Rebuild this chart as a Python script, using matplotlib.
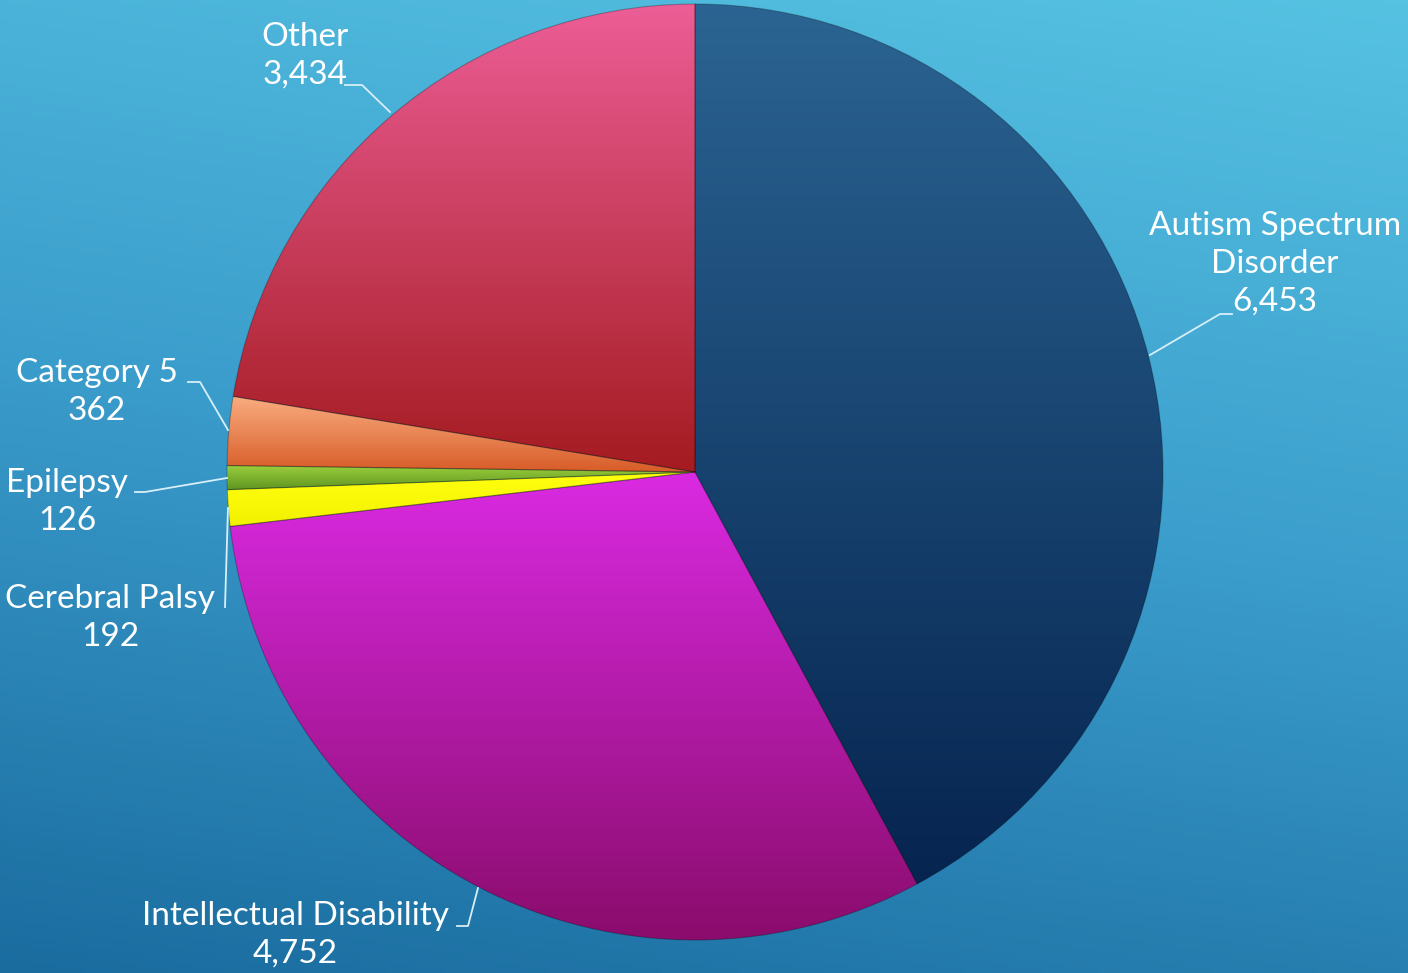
import numpy as np
import matplotlib.pyplot as plt
from matplotlib.colors import LinearSegmentedColormap

# データ
labels = ['Autism Spectrum\nDisorder', 'Intellectual Disability', 'Cerebral Palsy',
          'Epilepsy', 'Category 5', 'Other']
values = [6453, 4752, 192, 126, 362, 3434]
# 各セクターのグラデーション (上, 下)
top_colors = ['#2b6492', '#da2ae2', '#ffff10', '#9ccf3c', '#f9ad80', '#ec5e96']
bottom_colors = ['#06244f', '#8a0c6c', '#f2f200', '#5e9422', '#d85c28', '#a41b20']

W, H = 1408, 973
fig = plt.figure(figsize=(W / 100, H / 100), dpi=100)
ax = fig.add_axes([0, 0, 1, 1])

# 背景グラデーション
yy, xx = np.mgrid[0:1:200j, 0:1:200j]
t = 0.8 * yy + 0.2 * (1 - xx)
bg = LinearSegmentedColormap.from_list('bg', ['#56c2e2', '#3a9ccb', '#1a6c9f'])
ax.imshow(t, cmap=bg, extent=(0, W, 0, H), origin='upper', aspect='auto', zorder=0)

cx, cy, r = 695, H - 472, 468
wedges, _ = ax.pie(values, startangle=90, counterclock=False, center=(cx, cy),
                   radius=r, wedgeprops=dict(edgecolor='#00000040', linewidth=0.8))

for w, c1, c2 in zip(wedges, top_colors, bottom_colors):
    w.set_facecolor('none')
    w.set_zorder(3)
    ext = w.get_path().get_extents(w.get_patch_transform())
    cm = LinearSegmentedColormap.from_list('g', [c1, c2])
    grad = np.linspace(0, 1, 256).reshape(-1, 1)
    im = ax.imshow(grad, cmap=cm, extent=(ext.x0, ext.x1, ext.y0, ext.y1),
                   origin='upper', aspect='auto', zorder=2)
    im.set_clip_path(w)

ax.set_xlim(0, W)
ax.set_ylim(0, H)
ax.set_aspect('auto')
ax.axis('off')

# ラベルと引き出し線 (画面座標, y は上から)
label_pos = [(1275, 264), (295, 935), (110, 618), (67, 502), (97, 392), (305, 56)]
leaders = [
    [(1150, 355), (1220, 314), (1232, 314)],
    [(457, 926), (468, 926), (478, 888)],
    [(225, 607), (228, 508)],
    [(135, 492), (145, 492), (227, 478)],
    [(188, 382), (200, 382), (228, 430)],
    [(345, 85), (362, 85), (390, 112)],
]
for lab, v, (x, y), pts in zip(labels, values, label_pos, leaders):
    ax.text(x, H - y, f'{lab}\n{v:,}', ha='center', va='center', color='white',
            fontsize=24, family='Lato', linespacing=1.32, zorder=5)
    px = [p[0] for p in pts]
    py = [H - p[1] for p in pts]
    ax.plot(px, py, color='#d8eef8', lw=1.3, zorder=4)

fig.savefig('out.png', dpi=100)
